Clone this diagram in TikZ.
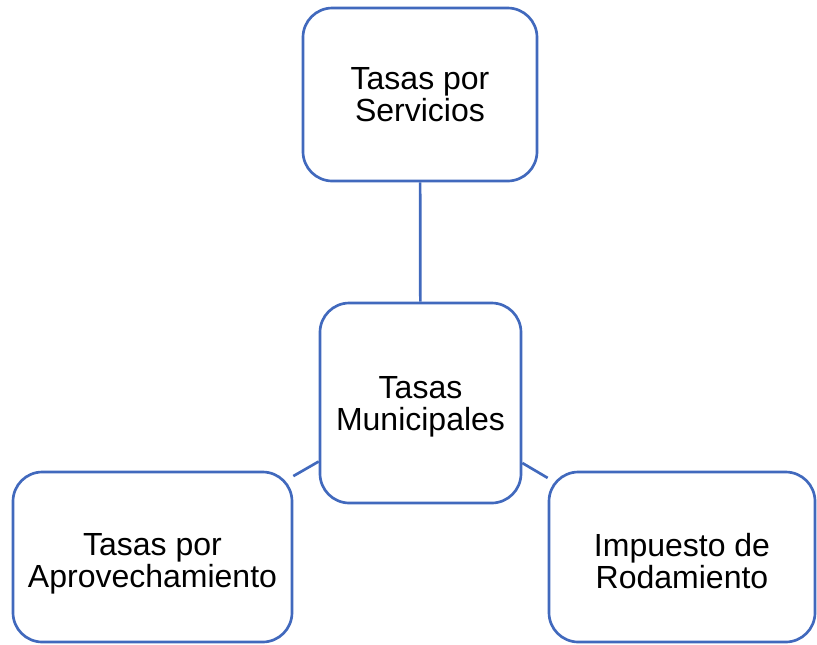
\documentclass[tikz,border=0pt]{standalone}
\usepackage{fontspec}
\setmainfont{Liberation Sans}
\definecolor{boxblue}{HTML}{4169BD}

\begin{document}
\begin{tikzpicture}[x=0.75pt,y=-0.75pt,every node/.style={draw=boxblue,line width=2pt,rounded corners=22pt,align=center,inner sep=0pt,text=black,font=\fontsize{24}{24}\selectfont}]
        \useasboundingbox (0,0) rectangle (817,644);

        \node[minimum width=175.5pt,minimum height=129.75pt] (servicios) at (420,94.5) {Tasas por\\Servicios};
        \node[minimum width=150.75pt,minimum height=150pt] (municipales) at (420.5,403) {\rule{0pt}{22pt}Tasas\\Municipales};
        \node[minimum width=209.25pt,minimum height=127.5pt] (aprovechamiento) at (152.5,557) {\rule{0pt}{26pt}Tasas por\\Aprovechamiento};
        \node[minimum width=199.5pt,minimum height=127.5pt] (rodamiento) at (682,557) {\rule{0pt}{24pt}Impuesto de\\Rodamiento};

        \path [-,draw=boxblue,line width=2pt] (servicios) edge (municipales);
        \path [-,draw=boxblue,line width=2pt] (municipales) edge (aprovechamiento);
        \path [-,draw=boxblue,line width=2pt] (municipales) edge (rodamiento);
    \end{tikzpicture}
\end{document}
